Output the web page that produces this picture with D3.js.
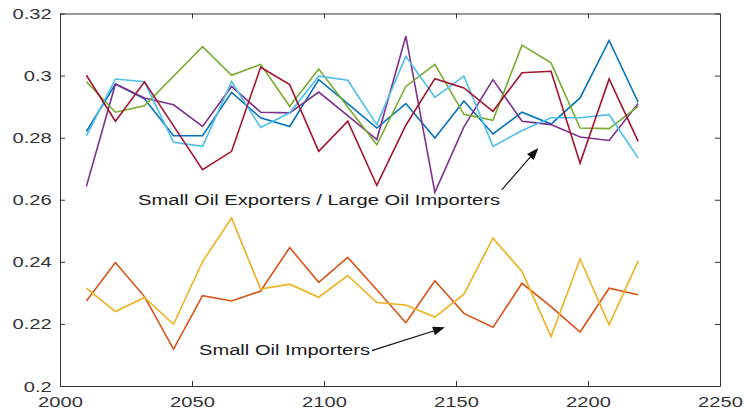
<!DOCTYPE html>
<html>
<head>
<meta charset="utf-8">
<script src="https://cdn.jsdelivr.net/npm/d3@7/dist/d3.min.js"></script>
<style>
  html, body { margin: 0; padding: 0; background: #fff; }
  svg { display: block; }
  text { font-family: "Liberation Sans", Arial, Helvetica, sans-serif; }
</style>
</head>
<body>
<svg id="chart" width="744" height="412"></svg>
<script>
// Simulation years (x values shared by every series)
const years = [2010, 2021, 2032, 2043, 2054, 2065, 2076, 2087, 2098, 2109,
               2120, 2131, 2142, 2153, 2164, 2175, 2186, 2197, 2208, 2219];

// Series values, one array per country group
const seriesBlue      = [0.2820, 0.2973, 0.2925, 0.2806, 0.2806, 0.2946, 0.2864, 0.2836, 0.2987, 0.2910,
                         0.2831, 0.2910, 0.2799, 0.2918, 0.2812, 0.2882, 0.2844, 0.2928, 0.3113, 0.2914];
const seriesOrange    = [0.2274, 0.2398, 0.2288, 0.2119, 0.2291, 0.2274, 0.2306, 0.2446, 0.2334, 0.2414,
                         0.2310, 0.2204, 0.2339, 0.2234, 0.2189, 0.2331, 0.2256, 0.2174, 0.2315, 0.2294];
const seriesYellow    = [0.2315, 0.2240, 0.2285, 0.2199, 0.2401, 0.2541, 0.2312, 0.2328, 0.2286, 0.2356,
                         0.2269, 0.2261, 0.2222, 0.2296, 0.2476, 0.2369, 0.2159, 0.2409, 0.2197, 0.2403];
const seriesPurple    = [0.2643, 0.2973, 0.2928, 0.2906, 0.2836, 0.2965, 0.2882, 0.2880, 0.2947, 0.2871,
                         0.2794, 0.3127, 0.2624, 0.2835, 0.2987, 0.2853, 0.2842, 0.2802, 0.2791, 0.2910];
const seriesGreen     = [0.2980, 0.2882, 0.2903, 0.2998, 0.3093, 0.3001, 0.3036, 0.2901, 0.3021, 0.2899,
                         0.2777, 0.2965, 0.3036, 0.2875, 0.2856, 0.3098, 0.3041, 0.2831, 0.2829, 0.2901];
const seriesLightBlue = [0.2806, 0.2989, 0.2980, 0.2785, 0.2772, 0.2980, 0.2833, 0.2880, 0.2998, 0.2985,
                         0.2842, 0.3062, 0.2930, 0.2998, 0.2772, 0.2823, 0.2864, 0.2864, 0.2874, 0.2734];
const seriesDarkRed   = [0.3001, 0.2853, 0.2980, 0.2838, 0.2697, 0.2756, 0.3027, 0.2971, 0.2756, 0.2853,
                         0.2646, 0.2840, 0.2990, 0.2960, 0.2885, 0.3009, 0.3014, 0.2718, 0.2989, 0.2788];

// Tick labels
const xTickValues = [2000, 2050, 2100, 2150, 2200, 2250];
const xTickLabels = ["2000", "2050", "2100", "2150", "2200", "2250"];
const yTickValues = [0.2, 0.22, 0.24, 0.26, 0.28, 0.3, 0.32];
const yTickLabels = ["0.2", "0.22", "0.24", "0.26", "0.28", "0.3", "0.32"];

// Annotation texts
const annotationTexts = ["Small Oil Exporters / Large Oil Importers", "Small Oil Importers"];

// Plot order and colours
const seriesList = [
  { values: seriesBlue,      color: "#0072BD" },
  { values: seriesOrange,    color: "#D95319" },
  { values: seriesYellow,    color: "#EDB120" },
  { values: seriesPurple,    color: "#7E2F8E" },
  { values: seriesGreen,     color: "#77AC30" },
  { values: seriesLightBlue, color: "#4DBEEE" },
  { values: seriesDarkRed,   color: "#A2142F" }
];

const svg = d3.select("#chart");
const plotLeft = 60, plotRight = 720, plotTop = 13.5, plotBottom = 386;
const axisColor = "#333";
const sx = 1.44; // horizontal stretch of the label glyphs

const x = d3.scaleLinear().domain([2000, 2250]).range([plotLeft, plotRight]);
const y = d3.scaleLinear().domain([0.2, 0.32]).range([plotBottom, plotTop]);

// Lines
const line = d3.line().x((d, i) => x(years[i])).y(d => y(d));
svg.append("g").selectAll("path")
  .data(seriesList)
  .join("path")
  .attr("d", s => line(s.values))
  .attr("fill", "none")
  .attr("stroke", s => s.color)
  .attr("stroke-width", 1.6)
  .attr("stroke-linejoin", "miter");

// Axes with inward ticks on all four sides (boxed)
function styleAxis(g) {
  g.selectAll("path.domain").attr("stroke", axisColor).attr("stroke-width", 1);
  g.selectAll(".tick line").attr("stroke", axisColor).attr("stroke-width", 1);
}

const xAxis = svg.append("g")
  .attr("transform", `translate(0,${plotBottom})`)
  .call(d3.axisBottom(x).tickValues(xTickValues)
    .tickFormat((d, i) => xTickLabels[i]).tickSizeInner(-5).tickSizeOuter(0));
styleAxis(xAxis);
xAxis.selectAll(".tick text")
  .attr("y", 21).attr("dy", 0)
  .attr("transform", `scale(${sx},1)`)
  .attr("font-size", 14).attr("fill", axisColor);

const yAxis = svg.append("g")
  .attr("transform", `translate(${plotLeft},0)`)
  .call(d3.axisLeft(y).tickValues(yTickValues)
    .tickFormat((d, i) => yTickLabels[i]).tickSizeInner(-5).tickSizeOuter(0));
styleAxis(yAxis);
yAxis.selectAll(".tick text")
  .attr("x", -8.3 / sx).attr("dy", "0.36em")
  .attr("transform", `scale(${sx},1)`)
  .attr("font-size", 14).attr("fill", axisColor);

const xTop = svg.append("g")
  .attr("transform", `translate(0,${plotTop})`)
  .call(d3.axisTop(x).tickValues(xTickValues).tickFormat("").tickSizeInner(-5).tickSizeOuter(0));
styleAxis(xTop);

const yRight = svg.append("g")
  .attr("transform", `translate(${plotRight},0)`)
  .call(d3.axisRight(y).tickValues(yTickValues).tickFormat("").tickSizeInner(-5).tickSizeOuter(0));
styleAxis(yRight);

// Annotations: labels with arrows pointing at the two groups
function arrow(x1, y1, x2, y2) {
  const g = svg.append("g");
  const px1 = x(x1), py1 = y(y1), px2 = x(x2), py2 = y(y2);
  const ang = Math.atan2(py2 - py1, px2 - px1);
  const headLen = 12, headHalf = 4.5;
  const bx = px2 - headLen * Math.cos(ang), by = py2 - headLen * Math.sin(ang);
  g.append("line")
    .attr("x1", px1).attr("y1", py1).attr("x2", bx).attr("y2", by)
    .attr("stroke", "#111").attr("stroke-width", 1.2);
  const nx = -Math.sin(ang), ny = Math.cos(ang);
  g.append("path")
    .attr("d", `M${px2},${py2}L${bx + nx * headHalf},${by + ny * headHalf}L${bx - nx * headHalf},${by - ny * headHalf}Z`)
    .attr("fill", "#111");
}

svg.append("text")
  .attr("x", 138).attr("y", 205)
  .attr("font-size", 14).attr("fill", "#1a1a1a")
  .attr("textLength", 362).attr("lengthAdjust", "spacingAndGlyphs")
  .text(annotationTexts[0]);
arrow(2167.3, 0.2632, 2181.2, 0.2767);

svg.append("text")
  .attr("x", 199).attr("y", 355)
  .attr("font-size", 14).attr("fill", "#1a1a1a")
  .attr("textLength", 171).attr("lengthAdjust", "spacingAndGlyphs")
  .text(annotationTexts[1]);
arrow(2118.1, 0.2114, 2145.8, 0.2189);
</script>
</body>
</html>
